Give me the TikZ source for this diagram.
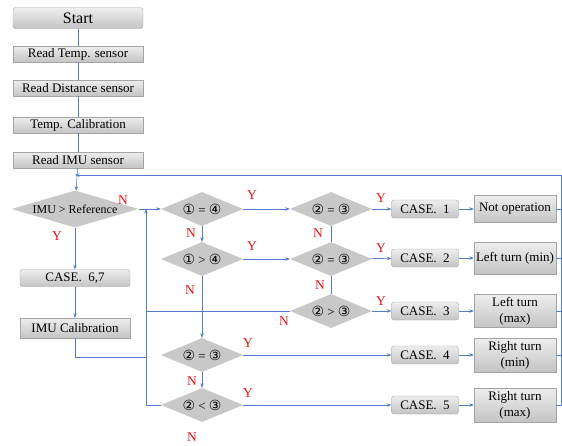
\documentclass[tikz,border=0pt]{standalone}
\usepackage{fontspec}
\setmainfont{Liberation Serif}
\newfontfamily\circfont{DejaVu Sans}
\usetikzlibrary{shapes.geometric,arrows.meta}
\definecolor{flowblue}{RGB}{84,124,200}
\definecolor{lblred}{RGB}{222,24,24}
\definecolor{decgray}{RGB}{200,200,200}
\definecolor{boxtop}{RGB}{238,238,238}
\definecolor{boxbot}{RGB}{196,196,196}
\definecolor{boxline}{RGB}{165,165,165}
\newcommand\cn[1]{{\circfont\fontsize{14}{14}\selectfont #1}}

\begin{document}
\begin{tikzpicture}[x=1pt, y=-1pt, node distance=35pt,
    every node/.style={font=\fontsize{13}{16}\selectfont},
    box/.style={draw=boxline, rectangle, top color=boxtop, bottom color=boxbot, inner sep=0pt, minimum width=130pt, minimum height=16pt},
    rbox/.style={box, rounded corners=2.5pt},
    dec/.style={diamond, fill=decgray, aspect=2.4, inner sep=0pt, minimum width=82pt, minimum height=34pt},
    flow/.style={draw=flowblue, line width=0.6pt, -{Stealth[length=4.5pt, width=3.5pt]}},
    link/.style={draw=flowblue, line width=0.6pt},
    yes/.style={text=lblred, font=\fontsize{13.5}{14}\selectfont}]
    \useasboundingbox (0,0) rectangle (562,445);

    % Sensor chain
    \node[rbox, minimum height=21pt, font=\fontsize{16}{16}\selectfont] (start) at (78,18) {Start};
    \node[box, below of=start, yshift=-1pt] (rdtemp) {Read Temp. sensor};
    \node[box, below of=rdtemp, yshift=1pt] (rddist) {Read Distance sensor};
    \node[box, below of=rddist, yshift=-2pt] (tempcal) {Temp. Calibration};
    \node[box, below of=tempcal] (rdimu) {Read IMU sensor};

    % IMU check
    \node[dec, aspect=4.2, minimum width=127pt, minimum height=37pt, font=\fontsize{12}{12}\selectfont] (imuref) at (75,209) {IMU > Reference};
    \node[rbox, minimum width=110pt, minimum height=17pt] (case67) at (75,278) {CASE.\ \ 6,7};
    \node[box, minimum width=110pt, minimum height=20pt, below of=case67, yshift=-15pt] (imucal) {IMU Calibration};

    % Decisions
    \node[dec] (c14eq) at (202,209) {\cn{①} = \cn{④}};
    \node[dec] (c14gt) at (202,259) {\cn{①} > \cn{④}};
    \node[dec] (c23eqa) at (331,209) {\cn{②} = \cn{③}};
    \node[dec] (c23eqb) at (331,259) {\cn{②} = \cn{③}};
    \node[dec] (c23gt) at (331,311) {\cn{②} > \cn{③}};
    \node[dec] (c23eqc) at (202,355) {\cn{②} = \cn{③}};
    \node[dec] (c23lt) at (202,405) {\cn{②} < \cn{③}};

    % Cases and outputs
    \node[rbox, minimum width=67pt, minimum height=18pt] (case1) at (425,209) {CASE.\ \ 1};
    \node[rbox, minimum width=67pt, minimum height=18pt] (case2) at (425,258) {CASE.\ \ 2};
    \node[rbox, minimum width=67pt, minimum height=18pt] (case3) at (425,311) {CASE.\ \ 3};
    \node[rbox, minimum width=67pt, minimum height=18pt] (case4) at (425,355) {CASE.\ \ 4};
    \node[rbox, minimum width=67pt, minimum height=18pt] (case5) at (425,405) {CASE.\ \ 5};
    \node[box, minimum width=82pt, minimum height=27pt, right of=case1, xshift=55pt] (out1) {Not operation};
    \node[box, minimum width=82pt, minimum height=32pt, right of=case2, xshift=55pt] (out2) {Left turn (min)};
    \node[box, minimum width=82pt, minimum height=33pt, align=center, right of=case3, xshift=55pt] (out3) {Left turn\\(max)};
    \node[box, minimum width=82pt, minimum height=34pt, align=center, right of=case4, xshift=55pt] (out4) {Right turn\\(min)};
    \node[box, minimum width=82pt, minimum height=34pt, align=center, right of=case5, xshift=55pt] (out5) {Right turn\\(max)};

    % Y / N labels
    \node[yes] (yimu) at (57,236) {Y};
    \node[yes] (nimu) at (123,200) {N};
    \node[yes] (ya) at (252,195) {Y};
    \node[yes] (na) at (191,233) {N};
    \node[yes] (yb) at (381,198) {Y};
    \node[yes] (nb) at (318,233) {N};
    \node[yes] (yc) at (252,246) {Y};
    \node[yes] (nc) at (190,290) {N};
    \node[yes] (yd) at (381,248) {Y};
    \node[yes] (nd) at (320,285) {N};
    \node[yes] (ye) at (381,301) {Y};
    \node[yes] (ne) at (284,321) {N};
    \node[yes] (yf) at (248,343) {Y};
    \node[yes] (nf) at (192,381) {N};
    \node[yes] (yg) at (248,393) {Y};
    \node[yes] (ng) at (192,437) {N};

    % Connectors
    \coordinate (jtop) at (146,209);
    \coordinate (jcal) at (146,357);
    \coordinate (jret) at (561,175);
    \draw[link] (start) -- (rdtemp) -- (rddist) -- (tempcal) -- (rdimu);
    \draw[flow] (rdimu) -- (imuref);
    \draw[flow] (imuref) -- (c14eq);
    \draw[flow] (imuref) -- (case67);
    \draw[flow] (case67) -- (imucal);
    \draw[link] (imucal.south) |- (jcal);
    \draw[flow] (c23lt) -| (jtop);
    \draw[link] (c23gt) -- (c23gt -| jtop);
    \draw[flow] (c14eq) -- (c23eqa);
    \draw[flow] (c14eq) -- (c14gt);
    \draw[flow] (c14gt) -- (c23eqb);
    \draw[flow] (c14gt) -- (c23eqc);
    \draw[flow] (c23eqc) -- (c23lt);
    \draw[link] (c23eqa) -- (c23eqb) -- (c23gt);
    \draw[flow] (c23eqa) -- (case1);
    \draw[flow] (c23eqb) -- (case2);
    \draw[flow] (c23gt) -- (case3);
    \draw[flow] (c23eqc) -- (case4);
    \draw[flow] (c23lt) -- (case5);
    \foreach \i in {1,...,5}
        \draw[flow] (case\i) -- (out\i);
    \foreach \i in {1,...,4}
        \draw[link] (out\i) -- (out\i -| jret);
    \draw[flow] (out5) -| (jret) -- (jret -| imuref);
\end{tikzpicture}
\end{document}
